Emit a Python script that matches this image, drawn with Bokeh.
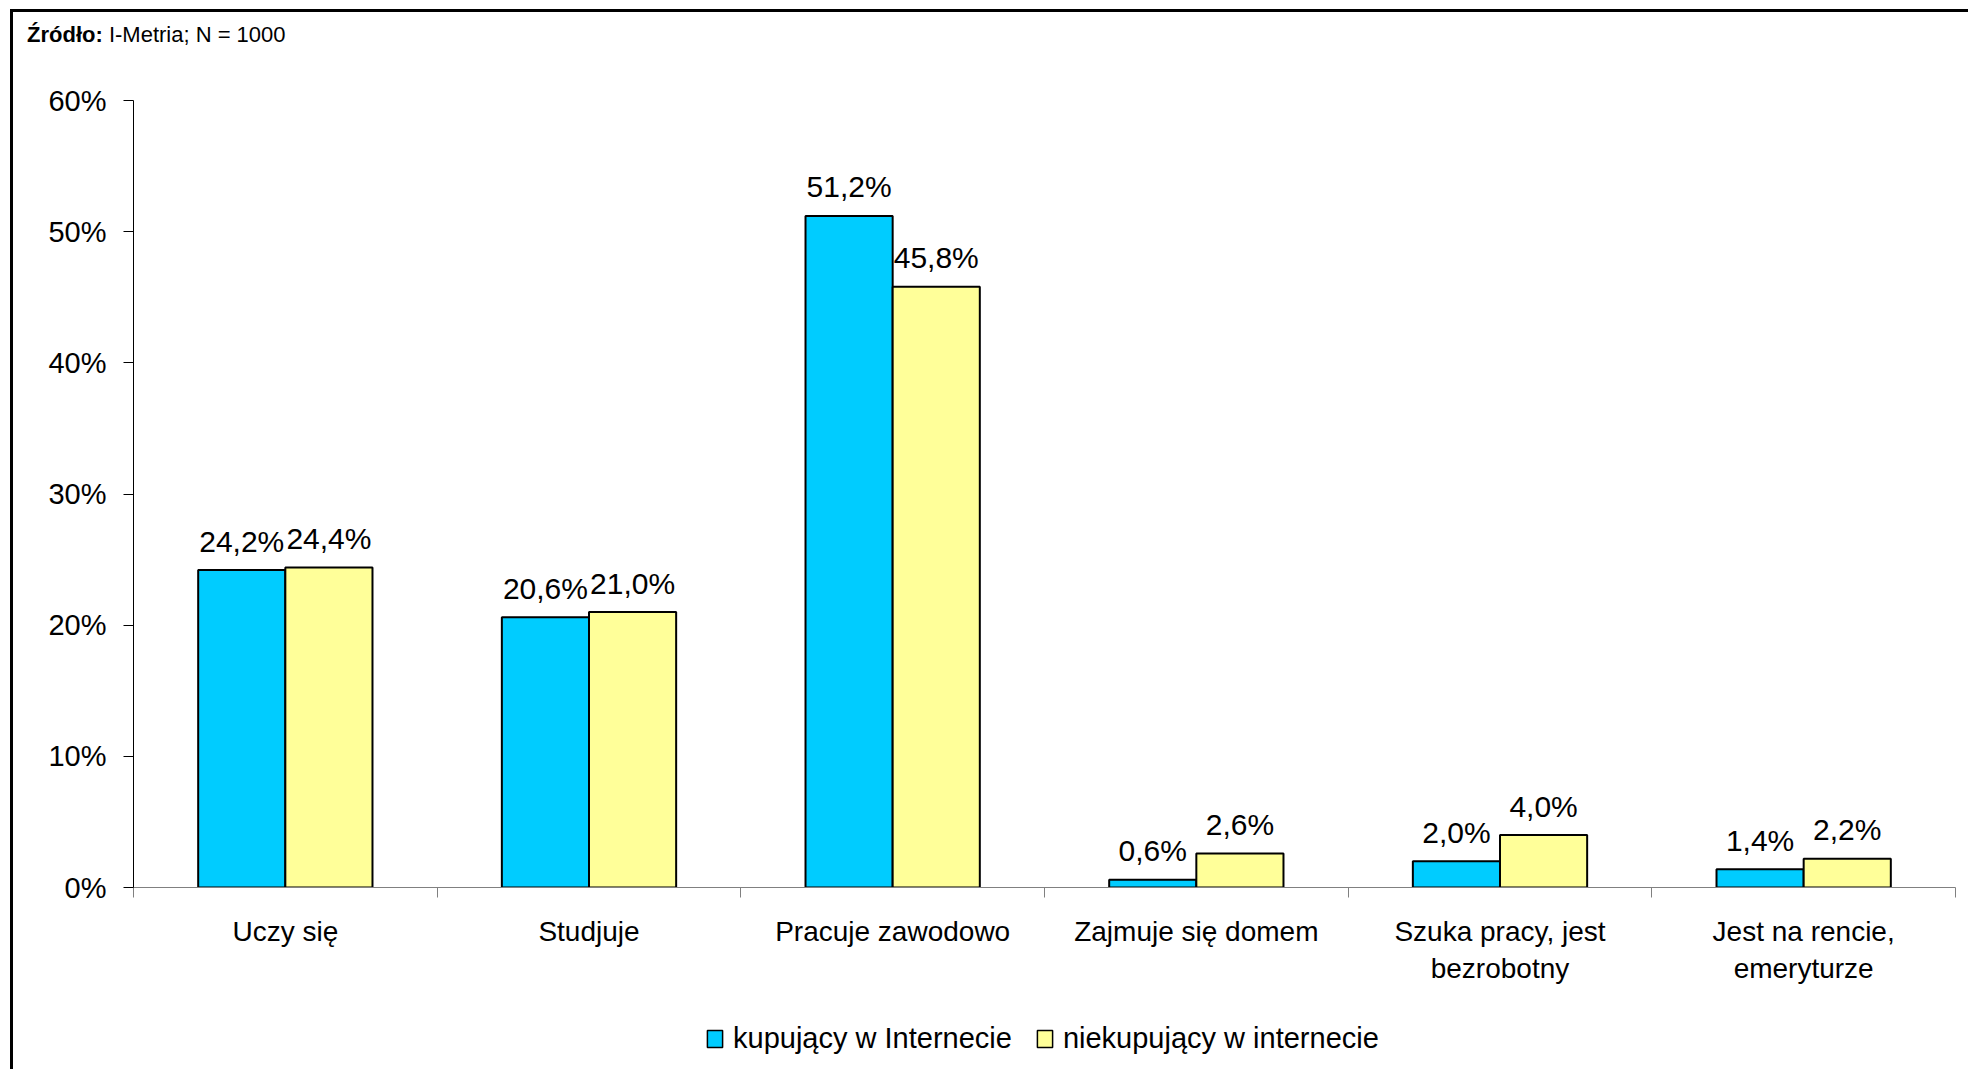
from bokeh.plotting import figure
from bokeh.models import (Range1d, FixedTicker, PrintfTickFormatter, ColumnDataSource,
                          Legend, LegendItem, Div)
from bokeh.layouts import column
from bokeh.core.properties import value
from bokeh.embed import file_html
from bokeh.resources import INLINE

categories = ["Uczy się", "Studjuje", "Pracuje zawodowo", "Zajmuje się domem",
              "Szuka pracy, jest\nbezrobotny", "Jest na rencie,\nemeryturze"]
kupujacy = [24.2, 20.6, 51.2, 0.6, 2.0, 1.4]
niekupujacy = [24.4, 21.0, 45.8, 2.6, 4.0, 2.2]
series_names = ["kupujący w Internecie", "niekupujący w internecie"]
y_ticks = [0, 10, 20, 30, 40, 50, 60]
source_bold = "Źródło:"
source_text = "I-Metria; N = 1000"

FONT = "Liberation Sans"
BLUE = "#00CCFF"
YELLOW = "#FFFF99"

n = len(categories)
centers = [i + 0.5 for i in range(n)]
off = 0.1435
bw = 0.287

p = figure(width=1955, height=934, output_backend="svg", toolbar_location=None,
           x_range=Range1d(0, n), y_range=Range1d(0, 60),
           min_border_left=120, min_border_right=13, min_border_top=40, min_border_bottom=107)
p.outline_line_color = None
p.xgrid.visible = False
p.ygrid.visible = False
p.background_fill_color = "white"
p.border_fill_color = "white"

src1 = ColumnDataSource(dict(x=[c - off for c in centers], top=kupujacy,
                             lab=[f"{v:.1f}%".replace(".", ",") for v in kupujacy]))
src2 = ColumnDataSource(dict(x=[c + off for c in centers], top=niekupujacy,
                             lab=[f"{v:.1f}%".replace(".", ",") for v in niekupujacy]))

r1 = p.vbar(x="x", top="top", width=bw, bottom=0, source=src1, fill_color=BLUE,
            line_color="black", line_width=2)
r2 = p.vbar(x="x", top="top", width=bw, bottom=0, source=src2, fill_color=YELLOW,
            line_color="black", line_width=2)

for s in (src1, src2):
    p.text(x="x", y="top", text="lab", source=s, text_align="center",
           text_baseline="alphabetic", y_offset=-29, text_font=value(FONT),
           text_font_size="30px", text_color="black")

# y axis
ya = p.yaxis[0]
ya.ticker = FixedTicker(ticks=y_ticks, minor_ticks=[])
ya.formatter = PrintfTickFormatter(format="%d%%")
ya.axis_line_color = "black"
ya.major_tick_line_color = "black"
ya.major_tick_out = 10
ya.major_tick_in = 0
ya.minor_tick_line_color = None
ya.major_label_standoff = 17
ya.major_label_text_font = FONT
ya.major_label_text_font_size = "29px"
ya.major_label_text_color = "black"

# x axis
xa = p.xaxis[0]
xa.ticker = FixedTicker(ticks=centers, minor_ticks=list(range(n + 1)))
xa.major_label_overrides = {c: lab for c, lab in zip(centers, categories)}
xa.axis_line_color = "#808080"
xa.major_tick_line_color = None
xa.major_tick_out = 0
xa.major_tick_in = 0
xa.minor_tick_line_color = "#808080"
xa.minor_tick_out = 10
xa.minor_tick_in = 0
xa.major_label_standoff = 18
xa.major_label_text_font = FONT
xa.major_label_text_font_size = "28px"
xa.major_label_text_color = "black"

# legend strip (separate small figure so nothing is clipped)
pl = figure(width=1955, height=75, output_backend="svg", toolbar_location=None,
            x_range=Range1d(0, 1), y_range=Range1d(0, 1),
            x_axis_location=None, y_axis_location=None, min_border=0)
pl.outline_line_color = None
pl.grid.visible = False
l1 = pl.vbar(x="x", top="top", width=0.01, source=ColumnDataSource(dict(x=[0.5], top=[0.5])),
             fill_color=BLUE, line_color="black", line_width=1.5)
l2 = pl.vbar(x="x", top="top", width=0.01, source=ColumnDataSource(dict(x=[0.5], top=[0.5])),
             fill_color=YELLOW, line_color="black", line_width=1.5)
l1.visible = False
l2.visible = False
legend = Legend(items=[LegendItem(label=series_names[0], renderers=[l1]),
                       LegendItem(label=series_names[1], renderers=[l2])],
                location=(572, 14), orientation="horizontal",
                glyph_width=19, glyph_height=21, label_standoff=9, spacing=23,
                padding=0, margin=0, border_line_color=None, background_fill_alpha=0,
                label_text_font=FONT, label_text_font_size="29px",
                label_text_color="black")
pl.add_layout(legend, "center")

note = Div(text=f"<b>{source_bold}</b> {source_text}", width=1955, height=48,
           styles={"font-family": FONT, "font-size": "22px", "color": "black",
                   "padding-top": "10px", "padding-left": "14px", "margin": "0",
                   "box-sizing": "border-box", "line-height": "25px"})

layout = column(note, p, pl, spacing=0,
                styles={"margin-left": "10px", "margin-top": "9px",
                        "border-left": "3px solid black", "border-top": "3px solid black"})

open("out.html", "w").write(file_html(layout, INLINE))
